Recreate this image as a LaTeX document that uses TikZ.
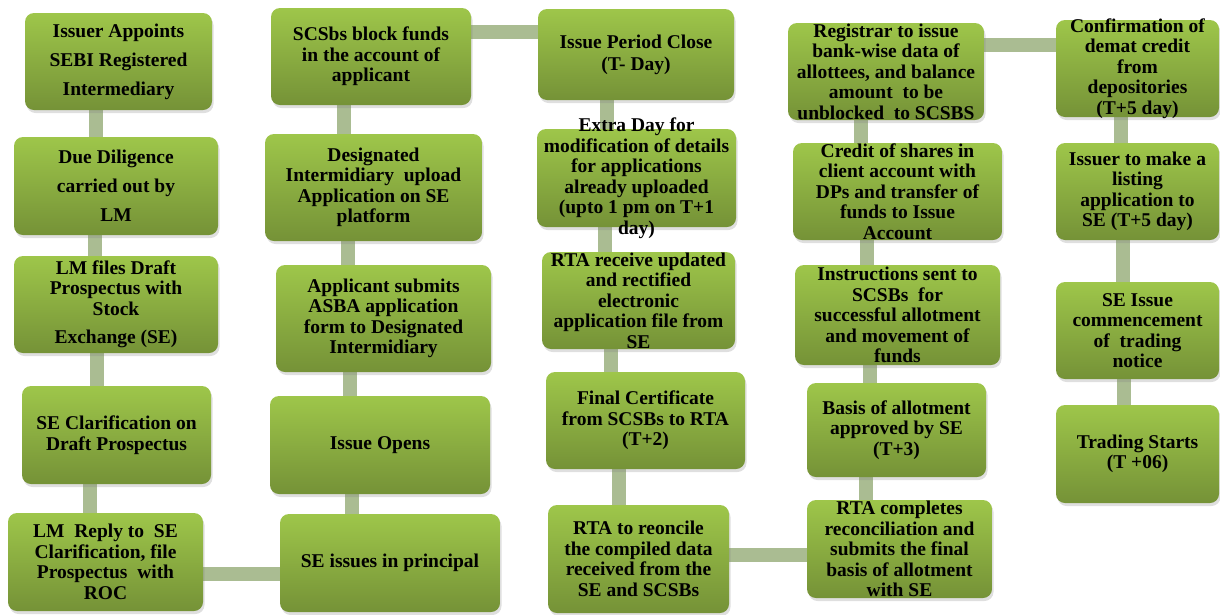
\documentclass[tikz,border=0pt]{standalone}
\usepackage{fontspec}
\setmainfont{Liberation Serif}
\usepackage{xcolor}
\usepackage{tikz}
\usetikzlibrary{shadows, backgrounds}
\definecolor{boxtop}{RGB}{158,198,74}
\definecolor{boxbot}{RGB}{117,146,55}
\definecolor{linkgreen}{RGB}{170,188,146}

\begin{document}
\begin{tikzpicture}[x=1pt, y=-1pt,
	stage/.style={rounded corners=9pt, top color=boxtop, bottom color=boxbot, align=center,
		inner xsep=2pt, inner ysep=-20pt, minimum height=97pt,
		font=\fontsize{19.5}{20.5}\selectfont\bfseries,
		drop shadow={shadow xshift=1.5pt, shadow yshift=-3pt, opacity=0.25}},
	loose/.style={font=\fontsize{19.5}{29}\selectfont\bfseries},
	link/.style={draw=linkgreen, line width=14.5pt}]
	\useasboundingbox (0,0) rectangle (1220,614);
	\node[stage, loose, minimum width=187pt] (b1) at (118.5,61.5) {Issuer Appoints\\SEBI Registered\\Intermediary};
	\node[stage, loose, minimum width=204pt, minimum height=98pt] (b2) at (116,186) {Due Diligence\\carried out by\\LM};
	\node[stage, minimum width=204pt] (b3) at (116,304.5) {LM files Draft\\Prospectus with\\Stock\\[8pt]Exchange (SE)};
	\node[stage, minimum width=189pt, minimum height=98pt] (b4) at (116.5,435) {SE Clarification on\\Draft Prospectus};
	\node[stage, minimum width=195pt, minimum height=98pt] (b5) at (105.5,562) {LM\ \ Reply to\ \ SE\\Clarification, file\\Prospectus\ \ with\\ROC};
	\node[stage, minimum width=200pt] (c1) at (371,56.5) {SCSbs block funds\\in the account of\\applicant};
	\node[stage, minimum width=217pt, minimum height=107pt] (c2) at (373.5,187.5) {Designated\\Intermidiary\ \ upload\\Application on SE\\platform};
	\node[stage, minimum width=215pt, minimum height=107pt] (c3) at (383.5,318.5) {Applicant submits\\ASBA application\\form to Designated\\Intermidiary};
	\node[stage, minimum width=220pt, minimum height=98pt] (c4) at (380,445) {Issue Opens};
	\node[stage, minimum width=220pt, minimum height=98pt] (c5) at (390,563) {SE issues in principal};
	\node[stage, minimum width=196pt, minimum height=91pt] (d1) at (636,54.5) {Issue Period Close\\[1.5pt](T- Day)};
	\node[stage, minimum width=199pt, minimum height=98pt] (d2) at (636.5,178) {Extra Day for\\modification of details\\for applications\\already uploaded\\(upto 1 pm on T+1\\day)};
	\node[stage, minimum width=193pt] (d3) at (638.5,300.5) {RTA receive updated\\and rectified\\electronic\\application file from\\SE};
	\node[stage, minimum width=199pt] (d4) at (645.5,420.5) {Final Certificate\\from SCSBs to RTA\\(T+2)};
	\node[stage, minimum width=181pt, minimum height=108pt] (d5) at (638.5,559) {RTA to reoncile\\the compiled data\\received from the\\SE and SCSBs};
	\node[stage, minimum width=196pt] (e1) at (886,71.5) {Registrar to issue\\bank-wise data of\\allottees, and balance\\amount\ \ to be\\unblocked\ \ to SCSBS};
	\node[stage, minimum width=209pt] (e2) at (897.5,191.5) {Credit of shares in\\client account with\\DPs and transfer of\\funds to Issue\\Account};
	\node[stage, minimum width=205pt, minimum height=100pt] (e3) at (897.5,315) {Instructions sent to\\SCSBs\ \ for\\successful allotment\\and movement of\\funds};
	\node[stage, minimum width=179pt, minimum height=94pt] (e4) at (896.5,430) {Basis of allotment\\approved by SE\\(T+3)};
	\node[stage, minimum width=185pt, minimum height=98pt] (e5) at (899.5,549) {RTA completes\\reconciliation and\\submits the final\\basis of allotment\\with SE};
	\node[stage, minimum width=163pt] (f1) at (1137.5,68.5) {Confirmation of\\demat credit\\from\\depositories\\(T+5 day)};
	\node[stage, minimum width=163pt] (f2) at (1137.5,191.5) {Issuer to make a\\listing\\application to\\SE (T+5 day)};
	\node[stage, minimum width=163pt] (f3) at (1137.5,330.5) {SE Issue\\commencement\\of\ \ trading\\notice};
	\node[stage, minimum width=163pt, minimum height=98pt] (f4) at (1137.5,454) {Trading Starts\\(T +06)};
	\begin{scope}[on background layer]
		\draw[link] ([xshift=-22.5pt]b1.south) -- ([xshift=-20pt]b2.north);
		\draw[link] ([xshift=-21pt]b2.south) -- ([xshift=-21pt]b3.north);
		\draw[link] ([xshift=-19pt]b3.south) -- ([xshift=-19.5pt]b4.north);
		\draw[link] ([xshift=-26.5pt]b4.south) -- ([xshift=-15.5pt]b5.north);
		\draw[link] ([yshift=-12pt]b5.east) -- ([yshift=-11pt]c5.west);
		\draw[link] ([xshift=-38pt]c5.north) -- ([xshift=-28pt]c4.south);
		\draw[link] ([xshift=-30pt]c4.north) -- ([xshift=-33.5pt]c3.south);
		\draw[link] ([xshift=-35.5pt]c3.north) -- ([xshift=-25.5pt]c2.south);
		\draw[link] ([xshift=-29.5pt]c2.north) -- ([xshift=-27pt]c1.south);
		\draw[link] ([yshift=24.5pt]c1.east) -- ([yshift=22.5pt]d1.west);
		\draw[link] ([xshift=-29pt]d1.south) -- ([xshift=-29.5pt]d2.north);
		\draw[link] ([xshift=-31.5pt]d2.south) -- ([xshift=-33.5pt]d3.north);
		\draw[link] ([xshift=-27.5pt]d3.south) -- ([xshift=-34.5pt]d4.north);
		\draw[link] ([xshift=-26.5pt]d4.south) -- ([xshift=-19.5pt]d5.north);
		\draw[link] ([yshift=4pt]d5.east) -- ([yshift=-6pt]e5.west);
		\draw[link] ([xshift=-33.5pt]e5.north) -- ([xshift=-30.5pt]e4.south);
		\draw[link] ([xshift=-26.5pt]e4.north) -- ([xshift=-27.5pt]e3.south);
		\draw[link] ([xshift=-30.5pt]e3.north) -- ([xshift=-30.5pt]e2.south);
		\draw[link] ([xshift=-36.5pt]e2.north) -- ([xshift=-25pt]e1.south);
		\draw[link] ([yshift=26.5pt]e1.east) -- ([yshift=23.5pt]f1.west);
		\draw[link] ([xshift=-16.5pt]f1.south) -- ([xshift=-16.5pt]f2.north);
		\draw[link] ([xshift=-14.5pt]f2.south) -- ([xshift=-14.5pt]f3.north);
		\draw[link] ([xshift=-13.5pt]f3.south) -- ([xshift=-13.5pt]f4.north);
	\end{scope}
\end{tikzpicture}
\end{document}
